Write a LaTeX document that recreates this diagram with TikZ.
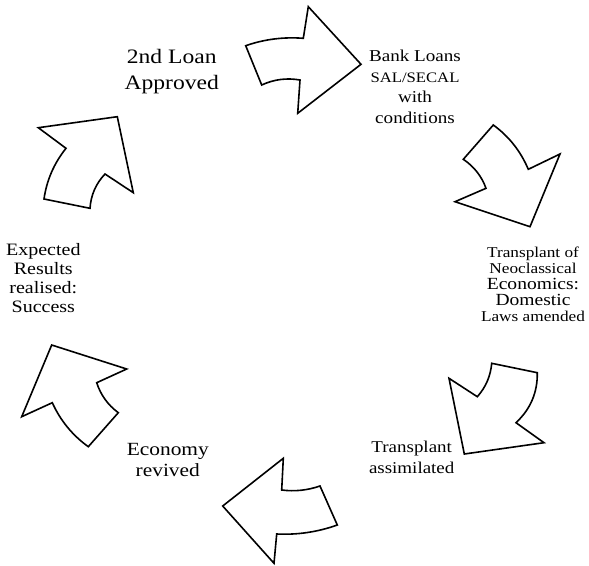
\documentclass[tikz,border=0pt]{standalone}
\usepackage{fontspec}
\setmainfont{Liberation Serif}

\tikzset{every picture/.style={line width=0.75pt}}
\tikzset{arrowshape/.style={line width=1.6, line join=miter},
  lbl/.style={anchor=north, inner sep=0pt, align=center, xscale=1.15}}

\begin{document}
\begin{tikzpicture}[x=1pt,y=1pt,yscale=-1,xscale=1]
\useasboundingbox (0,0) rectangle (589,565);

%Shape: Curved Arrow [id:dp1] top
\draw [arrowshape] (245.7,45.7) .. controls (264.4,39.2) and (283.6,36.8) .. (303.3,38.3) -- (308.3,6.7) -- (361,64.3) -- (297.7,113.3) -- (300,80) .. controls (286.7,77.7) and (274,79.3) .. (261.7,85) -- cycle ;
%Shape: Curved Arrow [id:dp2] top right
\draw [arrowshape] (493.3,125) -- (463.3,159.3) .. controls (474,166.5) and (481.6,176.1) .. (486,188.3) -- (455,201.7) -- (530,226.7) -- (560,154) -- (528.3,169.3) .. controls (520.5,151) and (508.9,136.4) .. cycle ;
%Shape: Curved Arrow [id:dp3] bottom right
\draw [arrowshape] (491.7,363.3) -- (537.3,372.7) .. controls (537.6,392.5) and (530.5,409.1) .. (516,422.7) -- (544,442.7) -- (464.3,454) -- (449,378.3) -- (477.3,396.7) .. controls (485.8,387.2) and (490.6,376) .. cycle ;
%Shape: Curved Arrow [id:dp4] bottom
\draw [arrowshape] (320,486) -- (337.3,525) .. controls (317.7,532) and (297.5,535) .. (276.7,534) -- (274,563.3) -- (222.7,506) -- (283.3,458.3) -- (281.7,490) .. controls (294.8,491.7) and (307.5,490.3) .. cycle ;
%Shape: Curved Arrow [id:dp5] lower left
\draw [arrowshape] (51.7,345) -- (126.7,369) -- (96.7,382.7) .. controls (100.7,395) and (107.9,405) .. (118.3,412.7) -- (88.3,446.7) .. controls (72.4,435.2) and (60.4,420.6) .. (52.3,402.7) -- (21.7,416.7) -- cycle ;
%Shape: Curved Arrow [id:dp6] upper left
\draw [arrowshape] (38.3,127.7) -- (117.3,116.7) -- (133.3,192.7) -- (105,174) .. controls (95.9,183.6) and (90.9,195.1) .. (90,208.3) -- (44,199) .. controls (46.7,180.1) and (54.1,163.2) .. (66,148.3) -- cycle ;

% Text Node
\draw (171.7,49.3) node (loan) [lbl, font=\fontsize{20.5}{25.7}\selectfont] {2nd Loan\\Approved};
% Text Node
\draw (415,49.7) node (bank) [lbl, font=\fontsize{16.6}{20.5}\selectfont] {Bank Loans\\{\fontsize{14.5}{20.5}\selectfont SAL/SECAL}\\with\\conditions};
% Text Node
\draw (533,246.5) node (neo) [lbl, font=\fontsize{15}{16}\selectfont] {Transplant of\\Neoclassical\\{\fontsize{17}{16}\selectfont Economics:}\\{\fontsize{17}{16}\selectfont Domestic}\\Laws amended};
% Text Node
\draw (411.7,440.4) node (assim) [lbl, font=\fontsize{16.5}{21.7}\selectfont] {Transplant\\assimilated};
% Text Node
\draw (167.8,442.7) node (econ) [lbl, font=\fontsize{18.6}{21.7}\selectfont] {Economy\\revived};
% Text Node
\draw (43.3,243.1) node (expect) [lbl, font=\fontsize{17.4}{19.1}\selectfont] {Expected\\Results\\realised:\\Success};

\end{tikzpicture}
\end{document}
